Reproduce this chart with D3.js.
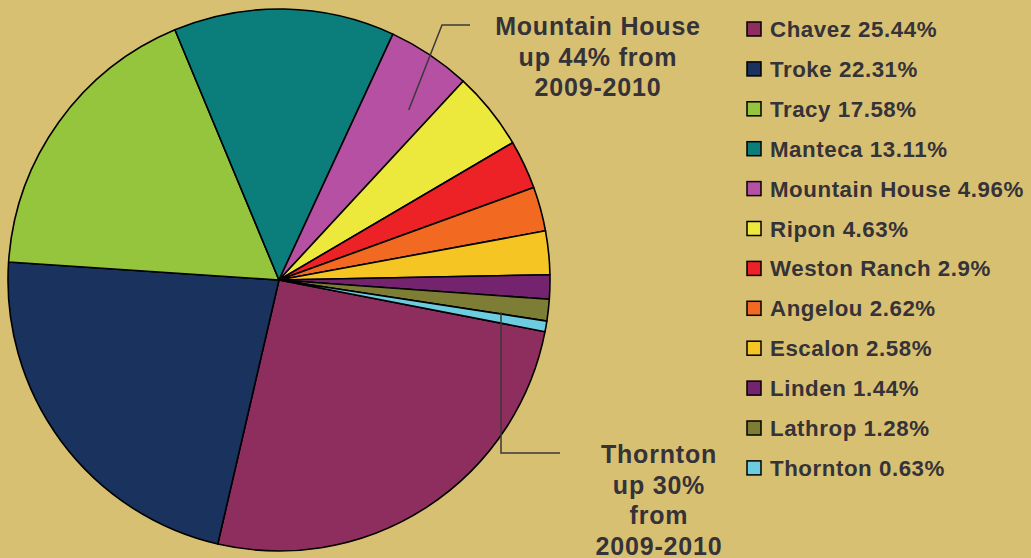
<!DOCTYPE html>
<html>
<head>
<meta charset="utf-8">
<script src="https://cdn.jsdelivr.net/npm/d3@7"></script>
<style>
  body { margin: 0; background: #d8c072; }
  svg { display: block; }
  text { font-family: "Liberation Sans", Arial, sans-serif; font-weight: bold; fill: #353238; }
</style>
</head>
<body>
<svg id="chart" width="1031" height="558"></svg>
<script>
'use strict'

// school share of enrollment
const schools = ['Chavez', 'Troke', 'Tracy', 'Manteca', 'Mountain House', 'Ripon',
  'Weston Ranch', 'Angelou', 'Escalon', 'Linden', 'Lathrop', 'Thornton']
const shares = [25.44, 22.31, 17.58, 13.11, 4.96, 4.63, 2.9, 2.62, 2.58, 1.44, 1.28, 0.63]
const colours = ['#8e2e5e', '#1a325e', '#95c43d', '#0b7d7b', '#b550a3', '#ede83c',
  '#ed2227', '#f26a22', '#f5c623', '#74236f', '#7d7d36', '#6ccde0']

const notes = [
  { school: 'Mountain House', lines: ['Mountain House', 'up 44% from', '2009-2010'] },
  { school: 'Thornton', lines: ['Thornton', 'up 30%', 'from', '2009-2010'] }
]

const svg = d3.select('#chart')
const cx = 279
const cy = 280
const r = 271
const start = 101 * Math.PI / 180

const data = schools.map((s, i) => ({ name: s, value: shares[i], colour: colours[i] }))

const pie = d3.pie()
  .sort(null)
  .value(d => d.value)
  .startAngle(start)
  .endAngle(start + 2 * Math.PI)

const arc = d3.arc().innerRadius(0).outerRadius(r)
const inner = d3.arc().innerRadius(r * 0.8).outerRadius(r * 0.8)

const arcs = pie(data)

const g = svg.append('g').attr('transform', `translate(${cx},${cy})`)
g.selectAll('path')
  .data(arcs)
  .join('path')
  .attr('d', arc)
  .attr('fill', d => d.data.colour)
  .attr('stroke', '#000')
  .attr('stroke-width', 1.6)
  .attr('stroke-linejoin', 'round')

// leader lines + callouts
const mh = arcs.find(d => d.data.name === 'Mountain House')
const th = arcs.find(d => d.data.name === 'Thornton')
const p1 = inner.centroid(mh)
const p2 = inner.centroid(th)

svg.append('path')
  .attr('d', d3.line()([[cx + p1[0] + 9, cy + p1[1] + 10], [442, 25], [470, 25]]))
  .attr('fill', 'none').attr('stroke', '#3a3838').attr('stroke-width', 1.5)
svg.append('path')
  .attr('d', d3.line()([[501, cy + p2[1] - 5], [501, 453], [560, 453]]))
  .attr('fill', 'none').attr('stroke', '#3a3838').attr('stroke-width', 1.5)

const callout = [{ x: 598, y: 35 }, { x: 659, y: 463 }]
notes.forEach((n, k) => {
  svg.append('text')
    .attr('text-anchor', 'middle')
    .attr('font-size', 25)
    .attr('letter-spacing', 0.8)
    .selectAll('tspan')
    .data(n.lines)
    .join('tspan')
    .attr('x', callout[k].x)
    .attr('y', (d, i) => callout[k].y + i * 30.7)
    .text(d => d)
})

// legend
const legend = svg.append('g').attr('transform', 'translate(747,22)')
const row = legend.selectAll('g')
  .data(data)
  .join('g')
  .attr('transform', (d, i) => `translate(0,${i * 39.9})`)
row.append('rect')
  .attr('width', 14).attr('height', 14)
  .attr('fill', d => d.colour)
  .attr('stroke', '#000').attr('stroke-width', 1.5)
row.append('text')
  .attr('x', 23).attr('y', 15)
  .attr('font-size', 22.3)
  .attr('letter-spacing', 0.55)
  .text(d => `${d.name} ${d.value}%`)
</script>
</body>
</html>
